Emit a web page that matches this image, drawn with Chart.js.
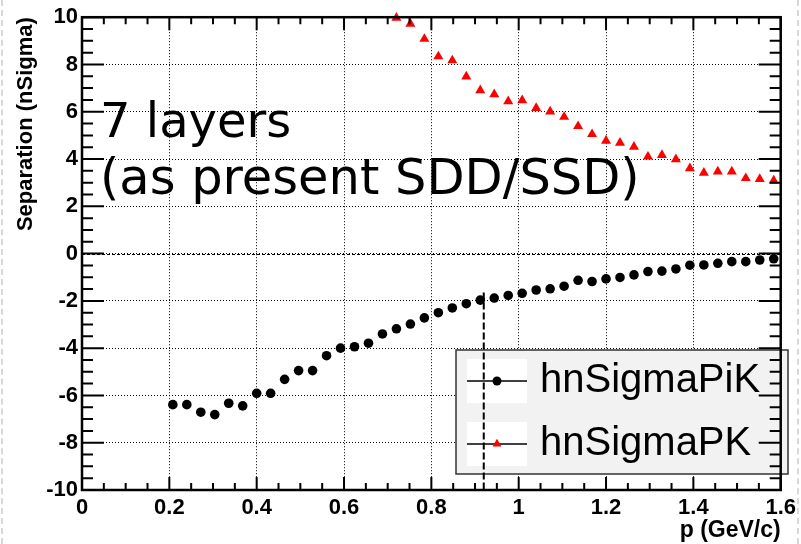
<!DOCTYPE html>
<html>
<head>
<meta charset="utf-8">
<script src="https://cdn.jsdelivr.net/npm/chart.js@4"></script>
<style>
  html, body { margin: 0; padding: 0; background: #fff; }
  #wrap { position: relative; width: 801px; height: 544px; }
  .edge { position: absolute; top: 0; height: 544px; width: 0; border-left: 2px dashed #d8d8d8; }
  canvas { position: absolute; left: 0; top: 0; }
</style>
</head>
<body>
<div id="wrap">
  <div class="edge" style="left:1px"></div>
  <div class="edge" style="left:797px"></div>
  <canvas id="c" width="801" height="544"></canvas>
</div>
<script>
// ---- data ----
const piKP = [0.208,0.240,0.272,0.304,0.336,0.368,0.400,0.432,0.464,0.496,0.528,0.560,0.592,0.624,0.656,0.688,0.720,0.752,0.784,0.816,0.848,0.880,0.912,0.944,0.976,1.008,1.040,1.072,1.104,1.136,1.168,1.200,1.232,1.264,1.296,1.328,1.360,1.392,1.424,1.456,1.488,1.520,1.552,1.584];
const piKSep = [-6.39,-6.39,-6.71,-6.81,-6.33,-6.44,-5.91,-5.91,-5.32,-4.95,-4.95,-4.32,-4.00,-3.94,-3.79,-3.40,-3.18,-2.98,-2.72,-2.50,-2.30,-2.12,-1.97,-1.88,-1.77,-1.68,-1.54,-1.49,-1.38,-1.13,-1.18,-1.07,-1.01,-0.90,-0.76,-0.74,-0.65,-0.49,-0.48,-0.41,-0.34,-0.34,-0.27,-0.22];
const pKP = [0.720,0.752,0.784,0.816,0.848,0.880,0.912,0.944,0.976,1.008,1.040,1.072,1.104,1.136,1.168,1.200,1.232,1.264,1.296,1.328,1.360,1.392,1.424,1.456,1.488,1.520,1.552,1.584];
const pKSep = [9.97,9.72,9.08,8.34,8.17,7.49,6.91,6.74,6.44,6.48,6.16,6.01,5.78,5.39,5.05,4.77,4.69,4.52,4.10,4.17,3.99,3.61,3.42,3.47,3.47,3.19,3.15,3.09];
const cutP = [0.92, 0.92];
const cutSep = [-1.65, -10];
const seriesNames = ['hnSigmaPiK', 'hnSigmaPK'];
const noteLines = ['7 layers', '(as present SDD/SSD)'];
const xTitle = 'p (GeV/c)';
const yTitle = 'Separation (nSigma)';
const xRange = [0, 1.6], yRange = [-10, 10];
const xMajor = 0.2, xMinor = 0.05, yMajor = 2, yMinor = 0.5;

const toPts = (xs, ys) => xs.map((x, i) => ({x, y: ys[i]}));

const AXFONT = 'Liberation Sans, Arial, sans-serif';

const rootPlugin = {
  id: 'rootStyle',
  beforeDatasetsDraw(chart) {
    const ctx = chart.ctx;
    ctx.save();
    ctx.fillStyle = '#f2f2f2';
    ctx.fillRect(456, 350, 332, 124);
    ctx.strokeStyle = '#333';
    ctx.lineWidth = 1.5;
    ctx.strokeRect(456, 350, 332, 124);
    const rows = [381, 444];
    rows.forEach((ry, i) => {
      ctx.fillStyle = '#fff';
      ctx.fillRect(467, ry - 22, 60, 44);
      ctx.strokeStyle = '#000';
      ctx.lineWidth = 1.5;
      ctx.beginPath(); ctx.moveTo(467, ry); ctx.lineTo(527, ry); ctx.stroke();
      if (i === 0) {
        ctx.fillStyle = '#000';
        ctx.beginPath(); ctx.arc(497, ry, 4.5, 0, Math.PI * 2); ctx.fill();
      } else {
        const r = 5.2;
        ctx.fillStyle = '#ff0000';
        ctx.beginPath();
        ctx.moveTo(497, ry - r);
        ctx.lineTo(497 + r * Math.sin(2 * Math.PI / 3), ry + r / 2);
        ctx.lineTo(497 - r * Math.sin(2 * Math.PI / 3), ry + r / 2);
        ctx.closePath(); ctx.fill();
      }
      ctx.fillStyle = '#000';
      ctx.font = '40px ' + AXFONT;
      ctx.textBaseline = 'alphabetic';
      ctx.textAlign = 'left';
      ctx.fillText(seriesNames[i], 540, ry + 11);
    });
    ctx.restore();
  },
  afterDraw(chart) {
    const ctx = chart.ctx, a = chart.chartArea;
    const xs = chart.scales.x, ys = chart.scales.y;
    ctx.save();
    ctx.strokeStyle = '#000'; ctx.lineWidth = 1;
    ctx.setLineDash([3, 2]);
    const y0 = Math.round(ys.getPixelForValue(0)) + 0.5;
    ctx.beginPath(); ctx.moveTo(a.left, y0); ctx.lineTo(a.right, y0); ctx.stroke();
    ctx.setLineDash([]);
    ctx.lineWidth = 2;
    const nx = Math.round((xRange[1] - xRange[0]) / xMinor);
    for (let i = 0; i <= nx; i++) {
      const v = xRange[0] + i * xMinor;
      const px = xs.getPixelForValue(v);
      const len = (i % Math.round(xMajor / xMinor) === 0) ? 13 : 7;
      ctx.beginPath();
      ctx.moveTo(px, a.bottom); ctx.lineTo(px, a.bottom - len);
      ctx.moveTo(px, a.top); ctx.lineTo(px, a.top + len);
      ctx.stroke();
    }
    const ny = Math.round((yRange[1] - yRange[0]) / yMinor);
    for (let i = 0; i <= ny; i++) {
      const v = yRange[0] + i * yMinor;
      const py = ys.getPixelForValue(v);
      const len = (i % Math.round(yMajor / yMinor) === 0) ? 22 : 11;
      ctx.beginPath();
      ctx.moveTo(a.left, py); ctx.lineTo(a.left + len, py);
      ctx.moveTo(a.right, py); ctx.lineTo(a.right - len, py);
      ctx.stroke();
    }
    ctx.lineWidth = 2.5;
    ctx.strokeRect(a.left, a.top, a.right - a.left, a.bottom - a.top);
    ctx.fillStyle = '#000';
    ctx.textAlign = 'left';
    ctx.textBaseline = 'alphabetic';
    ctx.font = '48px "DejaVu Sans", sans-serif';
    ctx.fillText(noteLines[0], 100, 137);
    ctx.font = '49.5px "DejaVu Sans", sans-serif';
    ctx.fillText(noteLines[1], 100, 194);
    ctx.restore();
  }
};

new Chart(document.getElementById('c'), {
  type: 'scatter',
  data: {
    datasets: [
      {
        label: seriesNames[0],
        data: toPts(piKP, piKSep),
        pointStyle: 'circle', pointRadius: 4.8, pointHoverRadius: 4.8,
        backgroundColor: '#000', borderColor: '#000', borderWidth: 0,
        clip: false
      },
      {
        label: seriesNames[1],
        data: toPts(pKP, pKSep),
        pointStyle: 'triangle', pointRadius: 5.8, pointHoverRadius: 5.8,
        backgroundColor: '#ff0000', borderColor: '#ff0000', borderWidth: 0,
        clip: false
      },
      {
        label: 'cut',
        data: toPts(cutP, cutSep),
        showLine: true, pointRadius: 0, borderColor: '#000', borderWidth: 2,
        borderDash: [7, 3], clip: false
      }
    ]
  },
  options: {
    responsive: false,
    animation: false,
    devicePixelRatio: 1,
    layout: { padding: { left: 0, right: 18, top: 15, bottom: 0 } },
    plugins: { legend: { display: false }, tooltip: { enabled: false } },
    scales: {
      x: {
        type: 'linear', min: xRange[0], max: xRange[1], offset: false,
        grid: { color: '#000', lineWidth: 1, drawTicks: false },
        border: { display: false, dash: [1, 2] },
        ticks: {
          stepSize: xMajor, autoSkip: false, maxRotation: 0, padding: 5,
          color: '#000', font: { family: AXFONT, size: 22, weight: 'bold' },
          callback: v => String(+v.toFixed(1))
        },
        title: { display: true, text: xTitle, align: 'end', color: '#000',
          font: { family: AXFONT, size: 23, weight: 'bold' }, padding: { top: 0, bottom: 0 } },
        afterFit: s => { s.height = 54; }
      },
      y: {
        type: 'linear', min: yRange[0], max: yRange[1], offset: false,
        grid: { color: '#000', lineWidth: 1, drawTicks: false },
        border: { display: false, dash: [1, 2] },
        ticks: {
          stepSize: yMajor, autoSkip: false, padding: 4,
          color: '#000', font: { family: AXFONT, size: 22, weight: 'bold' },
          callback: v => String(+v.toFixed(1))
        },
        title: { display: true, text: yTitle, align: 'end', color: '#000',
          font: { family: AXFONT, size: 22, weight: 'bold' }, padding: { top: 13, bottom: 0 } },
        afterFit: s => { s.width = 82; }
      }
    }
  },
  plugins: [rootPlugin]
});
</script>
</body>
</html>
